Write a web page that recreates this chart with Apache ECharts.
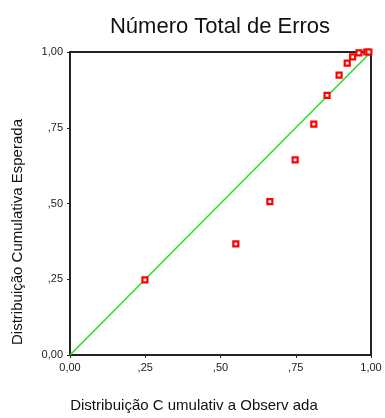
<!DOCTYPE html>
<html>
<head>
<meta charset="utf-8">
<script src="https://cdn.jsdelivr.net/npm/echarts@6/dist/echarts.min.js"></script>
<style>
html,body{margin:0;padding:0;background:#fff;}
#c{width:385px;height:418px;}
</style>
</head>
<body>
<div id="c"></div>
<script>
var titleText = 'Número Total de Erros';
var xName = 'Distribuição C umulativ a Observ ada';
var yName = 'Distribuição Cumulativa Esperada';
var tickValues = [0, 0.25, 0.5, 0.75, 1];
var tickLabels = ['0,00', ',25', ',50', ',75', '1,00'];
var observed = [0.249, 0.551, 0.664, 0.748, 0.810, 0.854, 0.894, 0.921, 0.939, 0.960, 0.986, 0.993];
var expected = [0.248, 0.367, 0.506, 0.644, 0.762, 0.857, 0.924, 0.963, 0.984, 0.997, 1.0, 1.0];
var refLine = [[0, 0], [1, 1]];

function fmt(v) {
  var i = tickValues.indexOf(Math.round(v * 100) / 100);
  return i >= 0 ? tickLabels[i] : '';
}

var chart = echarts.init(document.getElementById('c'), null, {renderer: 'canvas'});
var font = 'Liberation Sans, Arial, sans-serif';
chart.setOption({
  animation: false,
  backgroundColor: '#fff',
  title: {
    text: titleText, left: 215, top: 11, textAlign: 'center',
    textStyle: {fontFamily: font, fontSize: 22, fontWeight: 'normal', color: '#111'}
  },
  grid: {left: 70, right: 14, top: 52, bottom: 63, show: true, borderColor: '#222', borderWidth: 2, backgroundColor: '#fff'},
  xAxis: {
    type: 'value', min: 0, max: 1, interval: 0.25,
    axisLine: {show: true, lineStyle: {color: '#222', width: 2}},
    axisTick: {show: true, length: 3, lineStyle: {color: '#222', width: 1}},
    axisLabel: {formatter: fmt, fontFamily: font, fontSize: 11, color: '#222', margin: 7},
    splitLine: {show: false}
  },
  yAxis: {
    type: 'value', min: 0, max: 1, interval: 0.25,
    axisLine: {show: true, lineStyle: {color: '#222', width: 2}},
    axisTick: {show: true, length: 3, lineStyle: {color: '#222', width: 1}},
    axisLabel: {formatter: fmt, fontFamily: font, fontSize: 11, color: '#222', margin: 7},
    splitLine: {show: false}
  },
  graphic: [{
    type: 'text', x: 18, y: 232, rotation: Math.PI / 2,
    style: {text: yName, fontFamily: font, fontSize: 15, fill: '#111', align: 'center', verticalAlign: 'middle'}
  }, {
    type: 'text', x: 194, y: 406,
    style: {text: xName, fontFamily: font, fontSize: 15, fill: '#111', align: 'center', verticalAlign: 'middle'}
  }],
  series: [{
    type: 'line', data: refLine, symbol: 'none',
    lineStyle: {color: '#22e022', width: 1.5}, z: 2
  }, {
    type: 'scatter',
    data: observed.map(function (x, i) { return [x, expected[i]]; }),
    symbol: 'rect', symbolSize: 5,
    itemStyle: {color: '#fff', borderColor: '#ff0000', borderWidth: 2.2, opacity: 1},
    z: 3
  }]
});
</script>
</body>
</html>
